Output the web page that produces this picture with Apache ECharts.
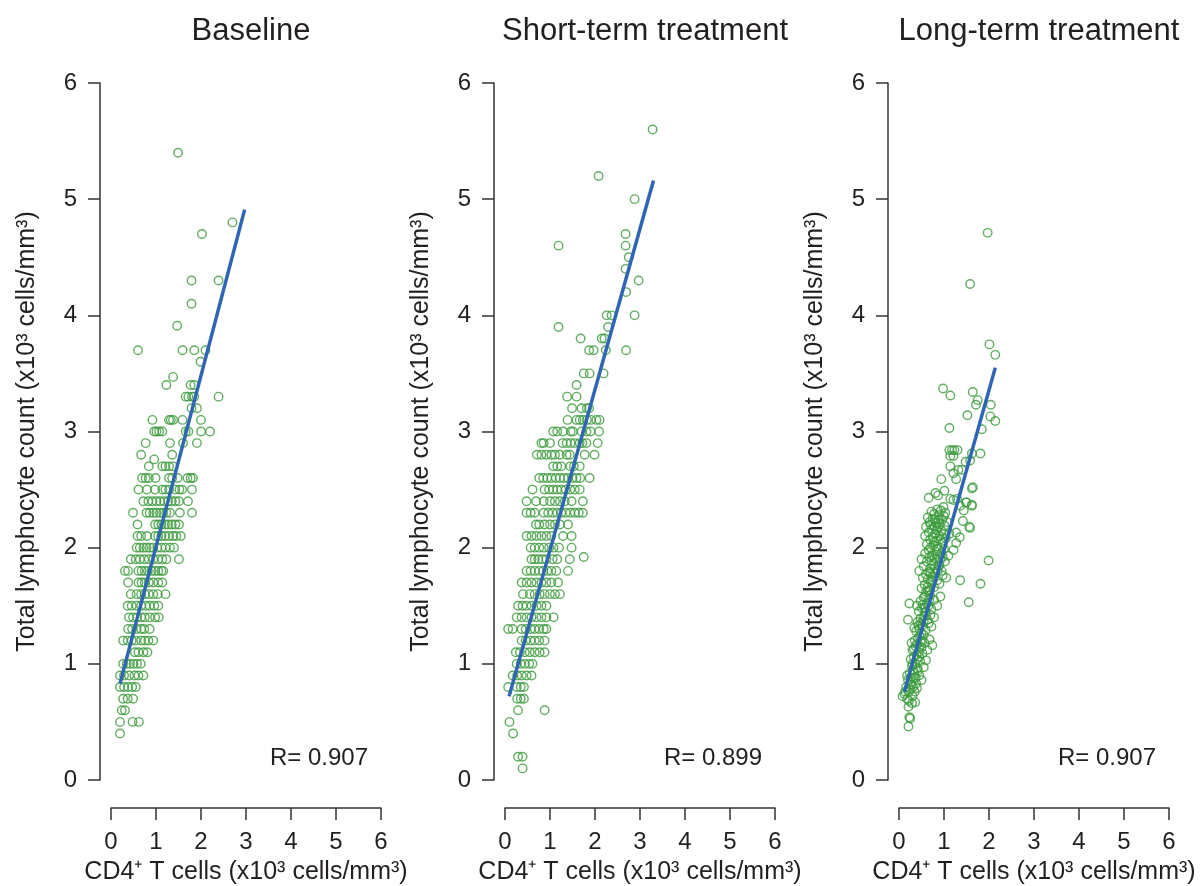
<!DOCTYPE html>
<html>
<head>
<meta charset="utf-8">
<script src="https://cdn.jsdelivr.net/npm/echarts@6/dist/echarts.min.js"></script>
<style>
html,body{margin:0;padding:0;background:#fff;}
#main{width:1204px;height:886px;}
</style>
</head>
<body>
<div id="main"></div>
<script>
// ---------- DATA ----------
const panelTitles = ['Baseline', 'Short-term treatment', 'Long-term treatment'];
const rValues = ['R= 0.907', 'R= 0.899', 'R= 0.907'];
const axisTicks = [0, 1, 2, 3, 4, 5, 6];
const xAxisName = 'CD4\u207A T cells (x10\u00B3 cells/mm\u00B3)';
const yAxisName = 'Total lymphocyte count (x10\u00B3 cells/mm\u00B3)';

// Baseline: rows of [y, [x values]]
const baselineRows = [
  [5.4, [1.49]],
  [4.8, [2.70]],
  [4.7, [2.02]],
  [4.3, [1.79, 2.39]],
  [4.1, [1.79]],
  [3.91, [1.47]],
  [3.7, [0.60, 1.59, 1.85, 2.10]],
  [3.6, [1.99]],
  [3.47, [1.38]],
  [3.4, [1.23, 1.77, 1.85]],
  [3.3, [1.66, 1.72, 1.80, 1.85, 2.39]],
  [3.2, [1.79, 1.91]],
  [3.1, [0.92, 1.29, 1.33, 1.38, 1.59, 2.00]],
  [3.0, [0.96, 1.01, 1.07, 1.14, 1.66, 1.72, 2.00, 2.20]],
  [2.9, [0.77, 1.31, 1.60, 1.91]],
  [2.8, [0.67, 1.36]],
  [2.76, [0.96]],
  [2.7, [0.84, 1.14, 1.21, 1.29, 1.38]],
  [2.6, [0.69, 0.77, 0.84, 0.99, 1.29, 1.36, 1.48, 1.70, 1.77, 1.82]],
  [2.5, [0.61, 0.80, 0.98, 1.14, 1.21, 1.29, 1.43, 1.52, 1.58, 1.80]],
  [2.4, [0.72, 0.83, 0.92, 1.01, 1.09, 1.18, 1.27, 1.35, 1.43, 1.51, 1.71]],
  [2.3, [0.49, 0.79, 0.86, 0.94, 1.01, 1.09, 1.16, 1.23, 1.31, 1.53, 1.80]],
  [2.2, [0.59, 0.98, 1.05, 1.12, 1.20, 1.27, 1.35, 1.43, 1.51]],
  [2.1, [0.59, 0.67, 0.80, 0.98, 1.05, 1.12, 1.20, 1.29, 1.38, 1.45, 1.55]],
  [2.0, [0.57, 0.64, 0.72, 0.79, 0.86, 0.94, 1.03, 1.12, 1.21, 1.31, 1.40]],
  [1.9, [0.44, 0.55, 0.64, 0.74, 0.84, 0.94, 1.05, 1.14, 1.23, 1.51]],
  [1.8, [0.31, 0.38, 0.61, 0.68, 0.75, 0.82, 0.90, 0.98, 1.05, 1.12, 1.16]],
  [1.7, [0.38, 0.61, 0.68, 0.75, 0.84, 0.94, 1.05, 1.14]],
  [1.6, [0.44, 0.57, 0.67, 0.75, 0.84, 0.94, 1.04, 1.21]],
  [1.5, [0.37, 0.46, 0.57, 0.67, 0.77, 0.86, 0.96, 1.05]],
  [1.4, [0.40, 0.49, 0.58, 0.67, 0.75, 0.86, 0.98, 1.06]],
  [1.3, [0.38, 0.47, 0.57, 0.67, 0.74, 0.86]],
  [1.2, [0.27, 0.37, 0.46, 0.55, 0.67, 0.75, 0.83, 0.94]],
  [1.1, [0.53, 0.61, 0.72, 0.81]],
  [1.0, [0.27, 0.35, 0.42, 0.50, 0.58, 0.66]],
  [0.9, [0.20, 0.29, 0.40, 0.52, 0.61, 0.72]],
  [0.8, [0.20, 0.29, 0.38, 0.47, 0.55]],
  [0.7, [0.27, 0.37, 0.49]],
  [0.6, [0.24, 0.31]],
  [0.5, [0.20, 0.48, 0.62]],
  [0.4, [0.20]]
];

// Short-term treatment: rows of [y, [x values]]
const shortTermRows = [
  [5.6, [3.28]],
  [5.2, [2.08]],
  [5.0, [2.88]],
  [4.7, [2.68]],
  [4.6, [1.19, 2.68]],
  [4.5, [2.75]],
  [4.4, [2.68]],
  [4.3, [2.97]],
  [4.2, [2.69]],
  [4.0, [2.26, 2.37, 2.88]],
  [3.9, [1.19, 2.29]],
  [3.8, [1.68, 2.15, 2.21]],
  [3.7, [1.87, 1.97, 2.24, 2.69]],
  [3.5, [1.75, 1.88, 2.19]],
  [3.4, [1.59]],
  [3.3, [1.38, 1.59]],
  [3.2, [1.49, 1.70, 1.82, 1.87]],
  [3.1, [1.39, 1.59, 1.66, 1.73, 1.82, 1.91, 2.03, 2.10]],
  [3.0, [1.07, 1.16, 1.29, 1.46, 1.51, 1.70, 1.81, 1.90, 2.09]],
  [2.9, [0.81, 0.86, 1.00, 1.28, 1.37, 1.46, 1.55, 1.66, 1.72, 1.81, 2.06]],
  [2.8, [0.71, 0.81, 0.92, 1.03, 1.11, 1.22, 1.37, 1.44, 1.77, 1.99]],
  [2.7, [1.07, 1.16, 1.25, 1.45, 1.53, 1.66]],
  [2.6, [0.76, 0.85, 0.94, 1.03, 1.13, 1.22, 1.31, 1.40, 1.50, 1.59, 1.67, 1.88]],
  [2.5, [0.61, 0.88, 0.98, 1.07, 1.16, 1.25, 1.35, 1.45, 1.55, 1.66]],
  [2.4, [0.48, 0.69, 0.86, 1.00, 1.11, 1.22, 1.33, 1.48, 1.73]],
  [2.3, [0.48, 0.57, 0.66, 0.86, 0.96, 1.06, 1.16, 1.25, 1.35, 1.45, 1.55, 1.64, 1.73]],
  [2.2, [0.69, 0.76, 0.88, 1.00, 1.11, 1.22, 1.40]],
  [2.1, [0.48, 0.59, 0.70, 0.81, 0.92, 1.03, 1.29, 1.48]],
  [2.0, [0.57, 0.66, 0.76, 0.86, 0.98, 1.08, 1.20, 1.48]],
  [1.92, [1.75]],
  [1.9, [0.59, 0.66, 0.74, 0.83, 0.92, 1.06, 1.16, 1.44]],
  [1.8, [0.48, 0.57, 0.66, 0.76, 0.85, 0.94, 1.03, 1.14, 1.40]],
  [1.7, [0.37, 0.48, 0.59, 0.70, 0.81, 0.92, 1.03, 1.18]],
  [1.6, [0.40, 0.55, 0.66, 0.77, 0.88, 1.00, 1.11, 1.22]],
  [1.5, [0.29, 0.39, 0.48, 0.59, 0.70, 0.81, 0.92]],
  [1.4, [0.26, 0.37, 0.48, 0.59, 0.70, 0.81, 0.92, 1.08]],
  [1.3, [0.07, 0.17, 0.37, 0.46, 0.57, 0.66, 0.76, 0.86, 0.92]],
  [1.2, [0.37, 0.46, 0.57, 0.66, 0.76, 0.88]],
  [1.1, [0.24, 0.33, 0.44, 0.55, 0.66, 0.77, 0.88]],
  [1.0, [0.26, 0.35, 0.44, 0.54, 0.61]],
  [0.9, [0.17, 0.27, 0.37, 0.48, 0.59]],
  [0.8, [0.07, 0.26, 0.35, 0.42]],
  [0.7, [0.27, 0.35, 0.42]],
  [0.6, [0.29, 0.88]],
  [0.5, [0.10]],
  [0.4, [0.18]],
  [0.2, [0.29, 0.39]],
  [0.1, [0.39]]
];

// Long-term treatment: [x, y] points
const longTermPoints = [
  [1.97,4.71],[1.58,4.27],[2.01,3.75],[2.14,3.66],[0.98,3.37],[1.14,3.31],[1.64,3.34],[1.75,3.27],
  [1.71,3.23],[2.04,3.23],[2.03,3.13],[2.14,3.09],[1.52,3.14],[1.12,3.03],[1.84,3.02],
  [1.12,2.84],[1.18,2.84],[1.23,2.84],[1.30,2.84],[1.14,2.79],[1.21,2.79],[1.62,2.81],[1.81,2.81],
  [1.48,2.74],[1.58,2.75],[1.14,2.70],[1.32,2.67],[1.40,2.67],[1.21,2.64],[1.27,2.59],[0.94,2.59],
  [1.64,2.52],[1.62,2.51],[1.01,2.49],[0.81,2.47],[0.87,2.45],[0.66,2.43],[1.14,2.42],[1.21,2.41],[1.29,2.42],
  [1.49,2.39],[1.50,2.39],[1.62,2.37],[1.62,2.36],[1.36,2.36],[0.99,2.35],[1.44,2.32],[1.42,2.23],[1.56,2.18],
  [1.58,2.17],[1.99,1.89],[1.27,2.13],[1.35,2.09],[1.27,2.04],[1.21,1.98],[1.81,1.69],[1.55,1.53],
  [1.36,1.72],[0.23,1.52],[0.20,1.38],[0.08,0.72],[0.23,0.54],[0.25,0.53],[0.21,0.46],[0.21,0.63],
  [0.29,0.66],[0.36,0.67],
  [0.12,0.74],[0.18,0.70],[0.25,0.78],[0.30,0.72],[0.16,0.80],[0.35,0.76],[0.22,0.68],[0.28,0.82],[0.40,0.79],
  [0.20,0.86],[0.27,0.84],[0.33,0.88],[0.38,0.83],[0.45,0.90],[0.24,0.92],[0.31,0.95],[0.50,0.86],[0.18,0.90],[0.42,0.94],
  [0.29,0.98],[0.36,1.00],[0.41,0.96],[0.47,1.02],[0.55,0.97],[0.26,1.04],[0.33,1.06],[0.60,1.03],[0.39,1.08],[0.52,1.09],
  [0.30,1.12],[0.37,1.15],[0.44,1.10],[0.50,1.14],[0.57,1.18],[0.63,1.12],[0.35,1.20],[0.42,1.22],[0.48,1.19],
  [0.55,1.25],[0.68,1.21],[0.28,1.18],[0.74,1.16],
  [0.38,1.28],[0.45,1.30],[0.52,1.33],[0.59,1.29],[0.66,1.35],[0.41,1.36],[0.48,1.39],[0.56,1.41],[0.63,1.38],
  [0.72,1.32],[0.34,1.31],[0.78,1.40],[0.50,1.26],
  [0.44,1.45],[0.51,1.48],[0.58,1.44],[0.65,1.50],[0.72,1.47],[0.48,1.54],[0.55,1.57],[0.62,1.52],[0.69,1.59],
  [0.78,1.55],[0.85,1.50],[0.40,1.50],[0.60,1.62],[0.92,1.58],
  [0.50,1.65],[0.57,1.68],[0.64,1.63],[0.71,1.70],[0.78,1.66],[0.85,1.72],[0.53,1.74],[0.60,1.77],[0.67,1.79],
  [0.74,1.75],[0.81,1.78],[0.90,1.69],[0.97,1.76],[0.45,1.80],[1.05,1.74],
  [0.55,1.84],[0.62,1.88],[0.69,1.82],[0.76,1.86],[0.83,1.90],[0.90,1.85],[0.97,1.92],[0.58,1.95],[0.66,1.98],
  [0.73,1.93],[0.80,1.97],[0.87,1.99],[0.94,1.95],[1.02,1.88],[1.10,1.93],[0.50,1.90],
  [0.62,2.03],[0.69,2.07],[0.76,2.02],[0.83,2.06],[0.90,2.10],[0.97,2.04],[1.04,2.08],[0.66,2.13],[0.73,2.16],
  [0.80,2.12],[0.87,2.18],[0.94,2.15],[1.01,2.19],[1.12,2.12],[0.58,2.10],
  [0.68,2.22],[0.75,2.25],[0.82,2.21],[0.89,2.28],[0.96,2.24],[1.03,2.30],[0.72,2.31],[0.85,2.33],[0.78,2.29],[0.64,2.26],
  [0.22,0.76],[0.26,0.88],[0.34,0.92],[0.30,1.00],[0.40,1.04],[0.45,1.06],[0.33,1.13],[0.40,1.17],[0.46,1.24],
  [0.53,1.20],[0.43,1.33],[0.49,1.35],[0.55,1.37],[0.60,1.45],[0.53,1.51],[0.67,1.55],[0.58,1.58],[0.63,1.66],
  [0.69,1.64],[0.75,1.72],[0.64,1.73],[0.70,1.78],[0.79,1.82],[0.86,1.80],[0.72,1.89],[0.79,1.91],[0.85,1.94],
  [0.92,1.90],[0.70,2.00],[0.78,2.05],[0.85,2.01],[0.92,2.07],[0.99,2.12],[0.76,2.09],[0.84,2.15],[0.91,2.20],
  [0.79,2.18],[0.70,2.20],[0.88,2.24],[0.93,2.32],[0.80,2.24],[1.00,2.27],[0.60,2.18],[1.07,2.22],[0.68,1.92],
  [0.88,1.84],[0.95,1.80],[1.00,1.99],[0.57,1.48],[0.70,1.42],[0.46,1.15],[0.37,0.88],[0.31,0.80],[0.14,0.76]
];

// Regression line end points [x, y]
const baselineFit = [[0.20, 0.83], [2.97, 4.91]];
const shortTermFit = [[0.09, 0.72], [3.30, 5.16]];
const longTermFit = [[0.12, 0.76], [2.14, 3.55]];

// ---------- BUILD ----------
function rowsToPoints(rows) {
  const out = [];
  rows.forEach(function (r) { r[1].forEach(function (x) { out.push([x, r[0]]); }); });
  return out;
}
const scatterData = [rowsToPoints(baselineRows), rowsToPoints(shortTermRows), longTermPoints];
const fitData = [baselineFit, shortTermFit, longTermFit];

const FONT = "'Liberation Sans', Arial, Helvetica, sans-serif";
const TXT = '#231f20';
const GREEN = '#3a9a3a';
const BLUE = '#2f66b3';
const gridLefts = [111, 505, 899];
const gridWidth = 270;
const gridTop = 83;
const gridHeight = 697;

const chart = echarts.init(document.getElementById('main'), null, { renderer: 'canvas' });

const grids = [], xAxes = [], yAxes = [], series = [], titles = [], graphics = [];
for (let i = 0; i < 3; i++) {
  grids.push({
    left: gridLefts[i], top: gridTop, width: gridWidth, height: gridHeight,
    containLabel: false, outerBoundsMode: 'none'
  });
  xAxes.push({
    gridIndex: i, type: 'value', min: 0, max: 6, interval: 1, position: 'bottom', offset: 28,
    name: xAxisName, nameLocation: 'middle', nameGap: 52,
    nameTextStyle: { fontFamily: FONT, fontSize: 25, color: TXT },
    axisLine: { show: true, onZero: false, lineStyle: { color: '#333', width: 1.5 } },
    axisTick: { show: true, length: 12, lineStyle: { color: '#333', width: 1.5 } },
    axisLabel: { fontFamily: FONT, fontSize: 24, color: TXT, margin: 22 },
    splitLine: { show: false }
  });
  yAxes.push({
    gridIndex: i, type: 'value', min: 0, max: 6, interval: 1, position: 'left', offset: 11,
    name: yAxisName, nameLocation: 'middle', nameGap: 60,
    nameTextStyle: { fontFamily: FONT, fontSize: 25, color: TXT },
    axisLine: { show: true, onZero: false, lineStyle: { color: '#333', width: 1.5 } },
    axisTick: { show: true, length: 12, lineStyle: { color: '#333', width: 1.5 } },
    axisLabel: { fontFamily: FONT, fontSize: 24, color: TXT, margin: 23 },
    splitLine: { show: false }
  });
  series.push({
    type: 'scatter', xAxisIndex: i, yAxisIndex: i, data: scatterData[i],
    symbol: 'circle', symbolSize: 8.5,
    itemStyle: { color: 'rgba(0,0,0,0)', borderColor: GREEN, borderWidth: 1.4 },
    emphasis: { disabled: true }, silent: true, z: 2
  });
  series.push({
    type: 'line', xAxisIndex: i, yAxisIndex: i, data: fitData[i],
    symbol: 'none', lineStyle: { color: BLUE, width: 3.5 }, silent: true, z: 3
  });
  titles.push({
    text: panelTitles[i], left: gridLefts[i] + gridWidth / 2, top: 11, textAlign: 'center',
    textStyle: { fontFamily: FONT, fontSize: 31, fontWeight: 'normal', color: TXT }
  });
  graphics.push({
    type: 'text', x: gridLefts[i] + gridWidth - 13, y: 758,
    style: { text: rValues[i], font: '24px ' + FONT, fill: TXT, align: 'right', verticalAlign: 'middle' }
  });
}

chart.setOption({
  backgroundColor: '#fff',
  animation: false,
  title: titles,
  grid: grids,
  xAxis: xAxes,
  yAxis: yAxes,
  series: series,
  graphic: graphics
});
</script>
</body>
</html>
